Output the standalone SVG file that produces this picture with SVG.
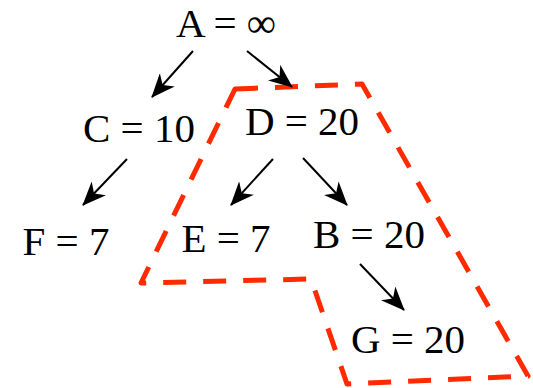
<svg xmlns="http://www.w3.org/2000/svg" width="533" height="388" viewBox="0 0 533 388">
<style>
  .lbl { font-family: "Liberation Serif", "DejaVu Serif", serif; font-size: 41px; fill: #000; text-anchor: middle; }
  .edge { stroke: #000; stroke-width: 2; fill: none; marker-end: url(#ah); }
  .region { stroke: #ff2a00; stroke-width: 5; fill: none; stroke-dasharray: 23 17; stroke-linejoin: round; }
</style>
<defs>
  <marker id="ah" markerUnits="userSpaceOnUse" markerWidth="24" markerHeight="20" viewBox="0 0 24 20" refX="23" refY="10" orient="auto">
    <path d="M0,0 L24,10 L0,20 L7,10 z" fill="#000"/>
  </marker>
</defs>
<rect width="533" height="388" fill="#fff"/>
<g id="region">
  <path class="region" d="M235,89 L362,84 L528,376 L347,384 L311,279 L141,283 Z"/>
</g>
<g id="connectors">
  <line class="edge" x1="193" y1="51" x2="152" y2="97"/>
  <line class="edge" x1="247" y1="51" x2="292" y2="87"/>
  <line class="edge" x1="127" y1="159" x2="83" y2="205"/>
  <line class="edge" x1="273" y1="159" x2="231" y2="205"/>
  <line class="edge" x1="303" y1="158" x2="347" y2="205"/>
  <line class="edge" x1="360" y1="264" x2="404" y2="310"/>
</g>
<g id="A"><text class="lbl" x="226" y="37">A = ∞</text></g>
<g id="C"><text class="lbl" x="139" y="142">C = 10</text></g>
<g id="D"><text class="lbl" x="302" y="135">D = 20</text></g>
<g id="F"><text class="lbl" x="66" y="255">F = 7</text></g>
<g id="E"><text class="lbl" x="226" y="252">E = 7</text></g>
<g id="B"><text class="lbl" x="369" y="248">B = 20</text></g>
<g id="G"><text class="lbl" x="408" y="353">G = 20</text></g>
</svg>
